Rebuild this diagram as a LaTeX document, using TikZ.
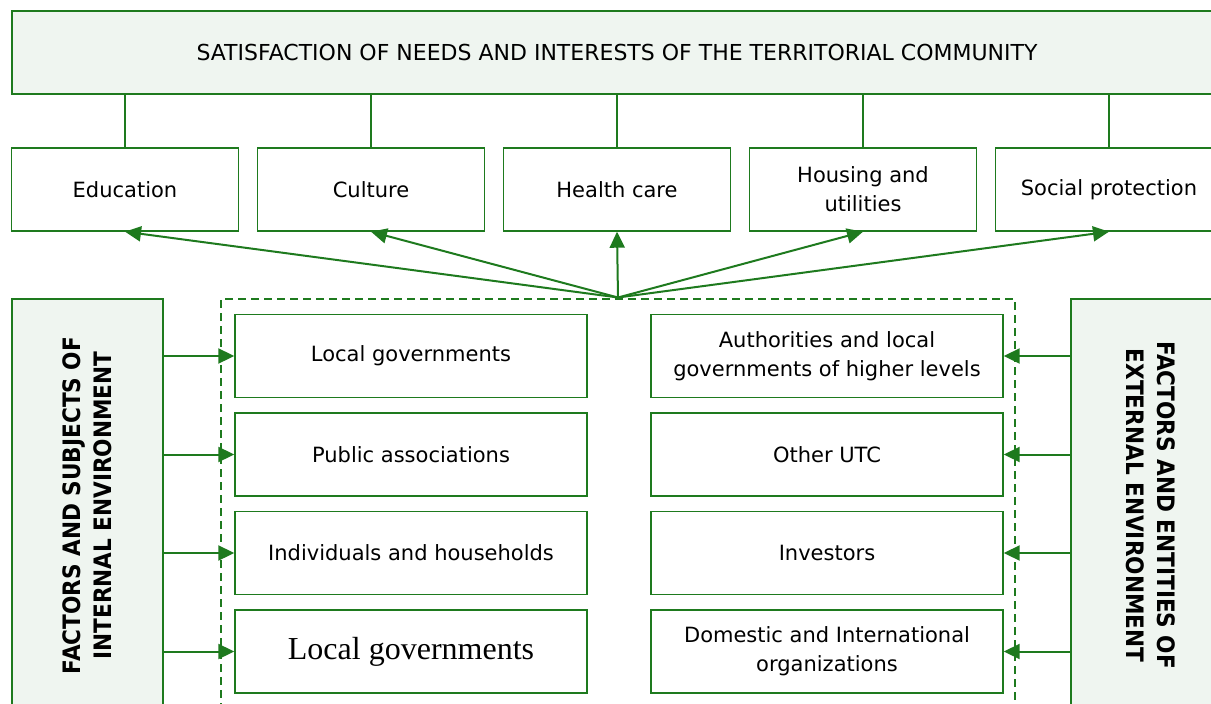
\documentclass[tikz,border=0pt]{standalone}
\usepackage{fontspec}
\setmainfont{DejaVu Sans}
\newfontfamily\timesfont{Liberation Serif}
\newfontfamily\sidefont[FakeStretch=0.9]{DejaVu Sans}
\usetikzlibrary{arrows.meta}

\definecolor{linegreen}{RGB}{30,122,30}
\definecolor{panelgreen}{RGB}{239,245,240}

\tikzset{
    box/.style={draw=linegreen, line width=1.4pt, fill=white, minimum width=227pt,
        minimum height=83pt, align=center, inner sep=2pt,
        font=\fontsize{21}{29}\selectfont},
    widebox/.style={box, minimum width=352pt},
    panel/.style={draw=linegreen, line width=1.4pt, fill=panelgreen, align=center},
    sidetext/.style={font=\sidefont\fontsize{24}{31}\selectfont\bfseries},
    link/.style={draw=linegreen, line width=2pt},
}

\begin{document}
\begin{tikzpicture}[x=1pt, y=-1pt, >={Triangle[length=16pt,width=15pt]}, node distance=246pt]
    \useasboundingbox (0,0) rectangle (1211,704);
    \clip (0,0) rectangle (1211,704);

    % Goal {goal}
    \node [panel, minimum width=1210pt, minimum height=83pt,
           font=\fontsize{22}{29}\selectfont] (goal) at (617,52.5)
           {SATISFACTION OF NEEDS AND INTERESTS OF THE TERRITORIAL COMMUNITY};

    % Needs {edu, cult, health, house, social}
    \node [box]                  (edu)    at (125,189.5) {Education};
    \node [box, right of=edu]    (cult)                  {Culture};
    \node [box, right of=cult]   (health)                {Health care};
    \node [box, right of=health] (house)                 {Housing and\\utilities};
    \node [box, right of=house]  (social)                {Social protection};

    % Core {core}
    \node [draw=linegreen, line width=2pt, dash pattern=on 8pt off 5pt,
           minimum width=793.5pt, minimum height=413.5pt] (core) at (618,505.25) {};

    % Environment {internal, external}
    \node [panel, sidetext, rotate=90, minimum width=413pt, minimum height=151pt]
          (internal) at (87.5,505.5) {FACTORS AND SUBJECTS OF\\INTERNAL ENVIRONMENT};
    \node [panel, sidetext, rotate=-90, minimum width=413pt, minimum height=160pt]
          (external) at (1151,505.5) {FACTORS AND ENTITIES OF\\EXTERNAL ENVIRONMENT};

    % Subjects {lg, pa, ih, lg2, auth, utc, inv, org}
    \node [widebox]                                    (lg)   at (411,356) {Local governments};
    \node [widebox, below of=lg, node distance=98.5pt]  (pa)   {Public associations};
    \node [widebox, below of=pa, node distance=98.5pt]  (ih)   {Individuals and households};
    \node [widebox, below of=ih, node distance=98.5pt, font=\timesfont\fontsize{32}{36}\selectfont]
          (lg2) {Local governments};
    \node [widebox, right of=lg, node distance=416pt]   (auth) {Authorities and local\\governments of higher levels};
    \node [widebox, below of=auth, node distance=98.5pt] (utc)  {Other UTC};
    \node [widebox, below of=utc, node distance=98.5pt]  (inv)  {Investors};
    \node [widebox, below of=inv, node distance=98.5pt]  (org)  {Domestic and International\\organizations};

    % Paths
    \path [link] (edu.north |- goal.south)    -- (edu.north);
    \path [link] (cult.north |- goal.south)   -- (cult.north);
    \path [link] (health.north |- goal.south) -- (health.north);
    \path [link] (house.north |- goal.south)  -- (house.north);
    \path [link] (social.north |- goal.south) -- (social.north);

    \path [link, ->] (core.north) -- (edu.south);
    \path [link, ->] (core.north) -- (cult.south);
    \path [link, ->] (core.north) -- (health.south);
    \path [link, ->] (core.north) -- (house.south);
    \path [link, ->] (core.north) -- (social.south);

    \path [link, ->] (lg -| internal.south)  -- (lg.west);
    \path [link, ->] (pa -| internal.south)  -- (pa.west);
    \path [link, ->] (ih -| internal.south)  -- (ih.west);
    \path [link, ->] (lg2 -| internal.south) -- (lg2.west);

    \path [link, ->] (auth -| external.south) -- (auth.east);
    \path [link, ->] (utc -| external.south)  -- (utc.east);
    \path [link, ->] (inv -| external.south)  -- (inv.east);
    \path [link, ->] (org -| external.south)  -- (org.east);
\end{tikzpicture}
\end{document}
